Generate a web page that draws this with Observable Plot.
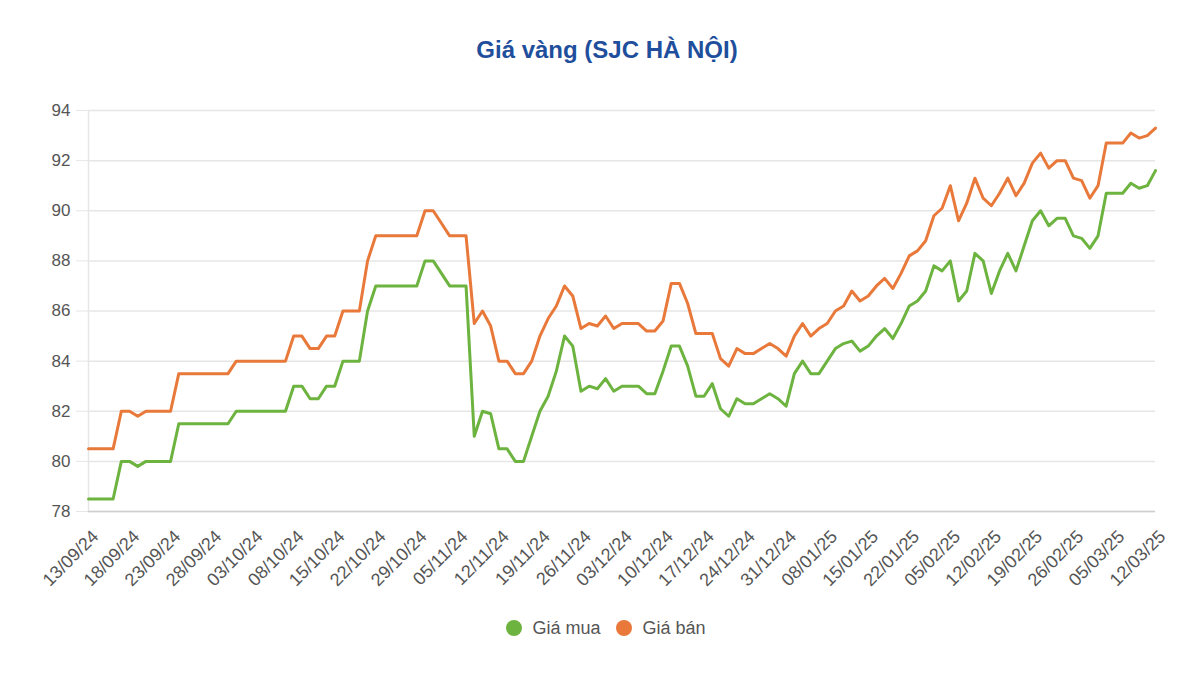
<!DOCTYPE html>
<html>
<head>
<meta charset="utf-8">
<script src="https://cdn.jsdelivr.net/npm/d3@7"></script>
<script src="https://cdn.jsdelivr.net/npm/@observablehq/plot@0.6"></script>
<style>
  html, body { margin: 0; padding: 0; background: #fff; }
  #wrap { position: relative; width: 1200px; height: 679px; font-family: "Liberation Sans", Arial, Helvetica, sans-serif; }
  #title { position: absolute; left: 0; top: 35px; width: 1214px; text-align: center; font-size: 24px; font-weight: bold; color: #1f4f9c; line-height: 30px; }
  #chart { position: absolute; left: 0; top: 100px; }
  #legend { position: absolute; left: 0; top: 615px; width: 1212px; display: flex; justify-content: center; align-items: center; font-size: 18px; color: #555; line-height: 26px; }
  .item { display: flex; align-items: center; margin: 0 8px; }
  .dot { width: 16px; height: 16px; border-radius: 50%; margin-right: 10px; display: inline-block; }
</style>
</head>
<body>
<div id="wrap">
  <div id="title">Giá vàng (SJC HÀ NỘI)</div>
  <div id="chart"></div>
  <div id="legend"></div>
</div>
<script>
const seriesNames = ["Giá mua", "Giá bán"];
const seriesColors = ["#6db33f", "#e8793a"];

const tickLabels = ["13/09/24","18/09/24","23/09/24","28/09/24","03/10/24","08/10/24","15/10/24","22/10/24","29/10/24","05/11/24","12/11/24","19/11/24","26/11/24","03/12/24","10/12/24","17/12/24","24/12/24","31/12/24","08/01/25","15/01/25","22/01/25","05/02/25","12/02/25","19/02/25","26/02/25","05/03/25","12/03/25"];
const tickStep = 5;

const yTicks = [78, 80, 82, 84, 86, 88, 90, 92, 94];

const giaMua = [
  78.5,78.5,78.5,78.5,80,80,79.8,80,80,80,
  80,81.5,81.5,81.5,81.5,81.5,81.5,81.5,82,82,
  82,82,82,82,82,83,83,82.5,82.5,83,
  83,84,84,84,86,87,87,87,87,87,
  87,88,88,87.5,87,87,87,81,82,81.9,
  80.5,80.5,80,80,81,82,82.6,83.6,85,84.6,
  82.8,83,82.9,83.3,82.8,83,83,83,82.7,82.7,
  83.6,84.6,84.6,83.8,82.6,82.6,83.1,82.1,81.8,82.5,
  82.3,82.3,82.5,82.7,82.5,82.2,83.5,84,83.5,83.5,
  84,84.5,84.7,84.8,84.4,84.6,85,85.3,84.9,85.5,
  86.2,86.4,86.8,87.8,87.6,88,86.4,86.8,88.3,88,
  86.7,87.6,88.3,87.6,88.6,89.6,90,89.4,89.7,89.7,
  89,88.9,88.5,89,90.7,90.7,90.7,91.1,90.9,91,
  91.6
];

const giaBan = [
  80.5,80.5,80.5,80.5,82,82,81.8,82,82,82,
  82,83.5,83.5,83.5,83.5,83.5,83.5,83.5,84,84,
  84,84,84,84,84,85,85,84.5,84.5,85,
  85,86,86,86,88,89,89,89,89,89,
  89,90,90,89.5,89,89,89,85.5,86,85.4,
  84,84,83.5,83.5,84,85,85.7,86.2,87,86.6,
  85.3,85.5,85.4,85.8,85.3,85.5,85.5,85.5,85.2,85.2,
  85.6,87.1,87.1,86.3,85.1,85.1,85.1,84.1,83.8,84.5,
  84.3,84.3,84.5,84.7,84.5,84.2,85,85.5,85,85.3,
  85.5,86,86.2,86.8,86.4,86.6,87,87.3,86.9,87.5,
  88.2,88.4,88.8,89.8,90.1,91,89.6,90.3,91.3,90.5,
  90.2,90.7,91.3,90.6,91.1,91.9,92.3,91.7,92,92,
  91.3,91.2,90.5,91,92.7,92.7,92.7,93.1,92.9,93,
  93.3
];

const rows = [];
[giaMua, giaBan].forEach((arr, s) => {
  arr.forEach((v, i) => rows.push({ i, v, series: seriesNames[s] }));
});
const xTicks = tickLabels.map((_, k) => k * tickStep);
const lastIndex = giaMua.length - 1;

const chart = Plot.plot({
  width: 1200,
  height: 500,
  marginLeft: 88,
  marginRight: 45,
  marginTop: 10,
  marginBottom: 89,
  style: { fontFamily: "'Liberation Sans', Arial, Helvetica, sans-serif", background: "transparent", overflow: "visible" },
  x: { domain: [0, lastIndex] },
  y: { domain: [78, 94] },
  color: { domain: seriesNames, range: seriesColors },
  marks: [
    Plot.ruleY(yTicks, { stroke: "#e6e6e6", strokeWidth: 1.5 }),
    Plot.ruleX([0], { stroke: "#e6e6e6", strokeWidth: 1.5 }),
    Plot.ruleY([78], { stroke: "#cfcfcf", strokeWidth: 1.5 }),
    Plot.axisY({ ticks: yTicks, tickSize: 12, tickPadding: 6, stroke: "#e6e6e6", fill: "#555", fontSize: 17, label: null }),
    Plot.axisX({ ticks: xTicks, tickFormat: d => tickLabels[d / tickStep], tickRotate: -45, tickSize: 0, tickPadding: 22, fill: "#555", fontSize: 18, label: null, dx: 7 }),
    Plot.line(rows, { x: "i", y: "v", z: "series", stroke: "series", strokeWidth: 3, strokeLinejoin: "round", strokeLinecap: "round" })
  ]
});
document.getElementById("chart").appendChild(chart);

const legend = document.getElementById("legend");
seriesNames.forEach((name, k) => {
  const item = document.createElement("div");
  item.className = "item";
  const dot = document.createElement("span");
  dot.className = "dot";
  dot.style.background = seriesColors[k];
  item.appendChild(dot);
  item.appendChild(document.createTextNode(name));
  legend.appendChild(item);
});
</script>
</body>
</html>
